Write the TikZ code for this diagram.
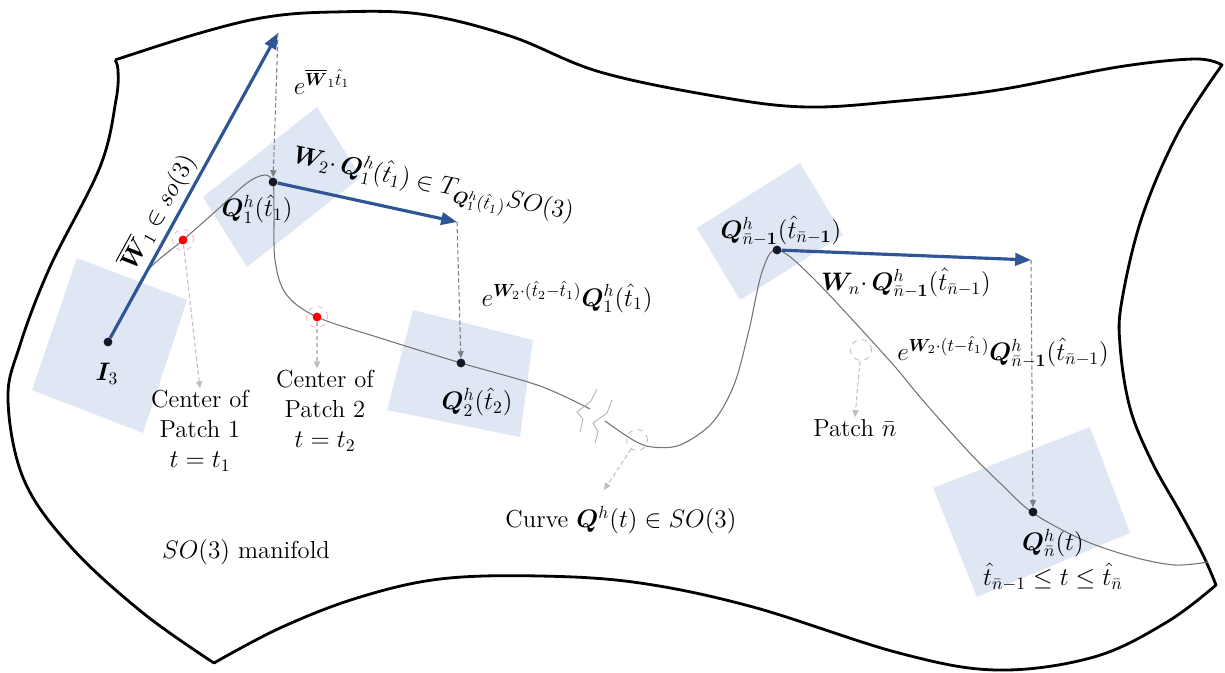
\documentclass[tikz,border=0pt]{standalone}
\usepackage{amsmath,amssymb,bm}
\usetikzlibrary{arrows.meta}
\definecolor{bluearr}{RGB}{47,85,151}
\definecolor{patchc}{RGB}{218,227,243}
\definecolor{dotc}{RGB}{20,25,40}
\begin{document}
\begin{tikzpicture}[x=0.02cm,y=-0.02cm,font=\fontsize{14}{17}\selectfont,
  dot/.style={circle,fill=dotc,inner sep=0pt,minimum size=5pt},
  rdot/.style={circle,fill=red,inner sep=0pt,minimum size=5pt},
  ring/.style={circle,draw=red!35,dashed,line width=0.4pt,inner sep=0pt,minimum size=12pt},
  gring/.style={circle,draw=black!25,dashed,line width=0.5pt,inner sep=0pt,minimum size=12pt},
  patch/.style={fill=patchc,fill opacity=0.85,draw=none},
  border/.style={line width=1.6pt,black},
  curveln/.style={line width=0.6pt,black!55},
  bluearrow/.style={line width=1.8pt,bluearr,-{Triangle[length=9pt,width=7pt]}},
  darrow/.style={line width=0.6pt,black!50,dash pattern=on 2.5pt off 1.5pt,-{Triangle[length=4pt,width=3.5pt]}},
  larrow/.style={line width=0.6pt,black!25,dash pattern=on 2.5pt off 1.5pt,-{Triangle[length=4pt,width=3.5pt]}},
  lbl/.style={inner sep=1pt}]
\useasboundingbox (0,0) rectangle (1225,673);
\fill[white] (0,0) rectangle (1225,673);
% patches
\fill[patch] (77,258) -- (187,300) -- (143,433) -- (32,390) -- cycle;
\fill[patch] (203,197) -- (317,107) -- (361,177) -- (247,267) -- cycle;
\fill[patch] (413,310) -- (533,340) -- (520,437) -- (387,410) -- cycle;
\fill[patch] (697,228) -- (800,163) -- (843,235) -- (740,300) -- cycle;
\fill[patch] (933,488) -- (1090,427) -- (1130,533) -- (977,597) -- cycle;
% manifold border
\draw[border,line join=round] plot[smooth,tension=0.6] coordinates {(115,60) (200,33) (267,17) (333,12) (420,14) (510,36) (600,72) (720,97) (807,107) (900,101) (998,90) (1118,67) (1195,59) (1222,65)}
  -- plot[smooth,tension=0.6] coordinates {(1222,65) (1178,133) (1142,217) (1122,300) (1120,345) (1130,408) (1152,462) (1180,512) (1203,555) (1216,585)}
  -- plot[smooth,tension=0.6] coordinates {(1216,585) (1167,622) (1094,657) (997,670) (899,653) (753,607) (640,583) (540,576) (440,579) (357,598) (280,628) (214,663)}
  -- plot[smooth,tension=0.6] coordinates {(214,663) (143,613) (71,547) (24,480) (8,400) (20,345) (50,267) (100,167) (116,100) (118,70) (115,60)};
% curve
\draw[curveln] plot[smooth,tension=0.55] coordinates {(108,342) (128,305) (148,270) (183,240) (217,210) (247,183) (265,175) (273,183) (274,210) (275,260) (286,294) (317,317) (380,338) (461,363) (540,386) (590,409)};
\draw[curveln] plot[smooth,tension=0.55] coordinates {(605,421) (633,440) (652,447) (680,445) (712,423) (734,385) (749,330) (762,272) (777,250) (812,277) (889,360) (920,397) (967,450) (1000,483) (1033,513) (1083,540) (1133,557) (1175,565) (1208,562)};
% break marks
\draw[line width=0.5pt,black!30] (597,389) -- (591,401) -- (577,412) -- (583,419) -- (580,432);
\draw[line width=0.5pt,black!30] (612,400) -- (607,413) -- (593,423) -- (598,432) -- (595,443);
% points
\node[dot] (I3) at (108,342) {};
\node[dot] (Q1) at (273,182) {};
\node[dot] (Q2) at (461,363) {};
\node[dot] (Qm) at (777,250) {};
\node[dot] (Qn) at (1033,512) {};
\node[ring] (rg1) at (183,240) {};
\node[ring] (rg2) at (317,317) {};
\node[rdot] (r1) at (183,240) {};
\node[rdot] (r2) at (317,317) {};
\node[gring] (c1) at (637,440) {};
\node[gring] (c2) at (861,350) {};
\coordinate (tA) at (278,33);
\coordinate (tB) at (457,222);
\coordinate (tC) at (1031,260);
\coordinate (ce) at (604,490);
% blue tangent arrows
\draw[bluearrow] (I3) -- (tA);
\draw[bluearrow] (Q1) -- (tB);
\draw[bluearrow] (Qm) -- (tC);
% dashed projections
\draw[darrow] (tA) -- (Q1);
\draw[darrow] (tB) -- (Q2);
\draw[darrow] (tC) -- (Qn);
% labels
\node[lbl] (lI3) at (107,374) {$\bm{I}_3$};
\node[lbl,rotate=61] (lW1) at (158,212) {$\overline{\bm{W}}_1\in so(3)$};
\node[lbl] (le1) at (322,82) {$e^{\overline{\bm{W}}_1\hat{t}_1}$};
\node[lbl] (lQ1) at (257,209) {$\bm{Q}_1^h(\hat{t}_1)$};
\node[lbl,rotate=-11.5] (lT) at (433,186) {$\bm{W}_2{\cdot}\,\bm{Q}_1^h(\hat{t}_1)\in T_{\bm{Q}_1^h(\hat{t}_1)}SO(3)$};
\node[lbl] (le2) at (567,297) {$e^{\bm{W}_{2}\cdot(\hat{t}_2-\hat{t}_1)}\bm{Q}_1^h(\hat{t}_1)$};
\node[lbl] (lQ2) at (477,402) {$\bm{Q}_2^h(\hat{t}_2)$};
\node[lbl,align=center] (cp1) at (200,431) {Center of\\Patch 1\\$t=t_1$};
\node[lbl,align=center] (cp2) at (325,411) {Center of\\Patch 2\\$t=t_2$};
\node[lbl] (lman) at (246,552) {$SO(3)$ manifold};
\node[lbl] (lcurve) at (621,520) {Curve $\bm{Q}^h(t)\in SO(3)$};
\node[lbl] (lQm) at (781,231) {$\bm{Q}^h_{\bar{n}-\bm{1}}(\hat{t}_{\bar{n}-\bm{1}})$};
\node[lbl] (lWn) at (906,283) {$\bm{W}_n{\cdot}\,\bm{Q}^h_{\bar{n}-\bm{1}}(\hat{t}_{\bar{n}-1})$};
\node[lbl] (le3) at (1003,352) {$e^{\bm{W}_{2}\cdot(t-\hat{t}_1)}\bm{Q}^h_{\bar{n}-\bm{1}}(\hat{t}_{\bar{n}-1})$};
\node[lbl] (lpn) at (855,428) {Patch $\bar{n}$};
\node[lbl] (lQn) at (1053,543) {$\bm{Q}^h_{\bar{n}}(t)$};
\node[lbl] (lrange) at (1053,577) {$\hat{t}_{\bar{n}-1}\le t\le\hat{t}_{\bar{n}}$};
% light pointer arrows
\draw[larrow] (r1) -- (cp1.north);
\draw[larrow] (r2) -- (r2 |- cp2.north);
\draw[larrow] (c1) -- (ce);
\draw[larrow] (c2) -- (lpn.north);
\end{tikzpicture}
\end{document}
